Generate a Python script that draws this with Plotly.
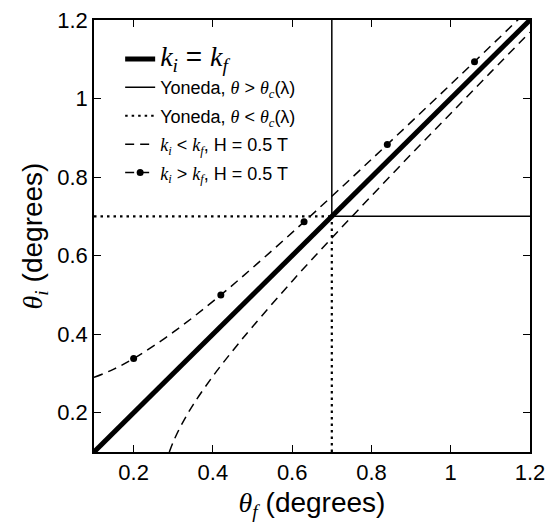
import plotly.graph_objects as go

# Data
diag_x = [0.1, 1.2]
diag_y = [0.1, 1.2]
theta_c = 0.7
axis_lo = 0.1
axis_hi = 1.2

# k_i > k_f, H = 0.5 T (upper dashed curve)
up_thf = [0.1, 0.15, 0.2, 0.3, 0.42, 0.5, 0.63, 0.75, 0.84, 0.95, 1.06, 1.17]
up_thi = [0.290, 0.311, 0.338, 0.405, 0.500, 0.569, 0.686, 0.798, 0.883, 0.988, 1.094, 1.201]
# markers on the upper curve
pts_thf = [0.2, 0.42, 0.63, 0.84, 1.06]
pts_thi = [0.338, 0.500, 0.686, 0.883, 1.094]

# k_i < k_f, H = 0.5 T (lower dashed curve)
lo_thf = [0.29, 0.3, 0.32, 0.35, 0.4, 0.45, 0.5, 0.6, 0.7, 0.8, 0.9, 1.0, 1.1, 1.2]
lo_thi = [0.100, 0.126, 0.168, 0.220, 0.293, 0.358, 0.419, 0.535, 0.645, 0.752, 0.858, 0.962, 1.066, 1.169]

tick_vals = [0.2, 0.4, 0.6, 0.8, 1.0, 1.2]
tick_text = ["0.2", "0.4", "0.6", "0.8", "1", "1.2"]


def ser(s):
    return '<span style="font-family:Liberation Serif"><i>%s</i></span>' % s


TH = ser("θ")
DASH = "9px,6px"
fig = go.Figure()

fig.add_trace(go.Scatter(
    x=diag_x, y=diag_y, mode="lines",
    line=dict(color="black", width=5),
    name='<span style="font-size:28px">' + ser("k") + "<sub>" + ser("i") + "</sub> = " + ser("k") + "<sub>" + ser("f") + "</sub></span>",
    legendgroup="a"))

fig.add_trace(go.Scatter(
    x=[theta_c, theta_c, None, theta_c, axis_hi],
    y=[axis_hi, theta_c, None, theta_c, theta_c], mode="lines",
    line=dict(color="black", width=1.5),
    name="Yoneda, " + TH + " > " + TH + "<sub>" + ser("c") + "</sub>(λ)",
    legendgroup="b"))

fig.add_trace(go.Scatter(
    x=[theta_c, theta_c, None, axis_lo, theta_c],
    y=[axis_lo, theta_c, None, theta_c, theta_c], mode="lines",
    line=dict(color="black", width=2.2, dash="2.5px,4px"),
    name="Yoneda, " + TH + " < " + TH + "<sub>" + ser("c") + "</sub>(λ)",
    legendgroup="c"))

fig.add_trace(go.Scatter(
    x=lo_thf, y=lo_thi, mode="lines", line_shape="spline",
    line=dict(color="black", width=1.5, dash=DASH),
    name=ser("k") + "<sub>" + ser("i") + "</sub> < " + ser("k") + "<sub>" + ser("f") + "</sub>, H = 0.5 T",
    legendgroup="d"))

fig.add_trace(go.Scatter(
    x=up_thf, y=up_thi, mode="lines", line_shape="spline",
    line=dict(color="black", width=1.5, dash=DASH),
    showlegend=False))
fig.add_trace(go.Scatter(
    x=pts_thf, y=pts_thi, mode="markers",
    marker=dict(color="black", size=7), showlegend=False))
fig.add_trace(go.Scatter(
    x=[None], y=[None], mode="lines+markers",
    line=dict(color="black", width=1.5, dash=DASH),
    marker=dict(color="black", size=7),
    name=ser("k") + "<sub>" + ser("i") + "</sub> > " + ser("k") + "<sub>" + ser("f") + "</sub>, H = 0.5 T",
    legendgroup="e"))

axis_common = dict(
    range=[axis_lo, axis_hi], tickvals=tick_vals, ticktext=tick_text,
    ticks="inside", ticklen=7, tickwidth=1.2, tickcolor="black",
    showline=True, linecolor="black", linewidth=1.5, mirror="ticks",
    showgrid=False, zeroline=False, automargin=False,
    ticklabeloverflow="allow",
    tickfont=dict(size=22, color="black", family="Liberation Sans"),
)

fig.update_layout(
    template="none",
    width=547, height=531,
    margin=dict(l=94, r=17, t=20, b=79),
    plot_bgcolor="white", paper_bgcolor="white",
    font=dict(family="Liberation Sans", color="black"),
    xaxis=dict(axis_common,
               title=dict(text=ser("θ") + "<sub>" + ser("f") + "</sub> (degrees)",
                          font=dict(size=28), standoff=8)),
    yaxis=dict(axis_common,
               title=dict(text=ser("θ") + "<sub>" + ser("i") + "</sub> (degrees)",
                          font=dict(size=28), standoff=6)),
    legend=dict(x=0.06, y=0.952, xanchor="left", yanchor="top",
                bgcolor="rgba(0,0,0,0)", borderwidth=0,
                font=dict(size=18, color="black"),
                traceorder="grouped", tracegroupgap=2),
    showlegend=True,
)

# remove the default page margin so the figure fills the window exactly
fig.write_html("out.html",
               config={"displayModeBar": False},
               post_script="document.body.style.margin='0';document.body.style.overflow='hidden';")
